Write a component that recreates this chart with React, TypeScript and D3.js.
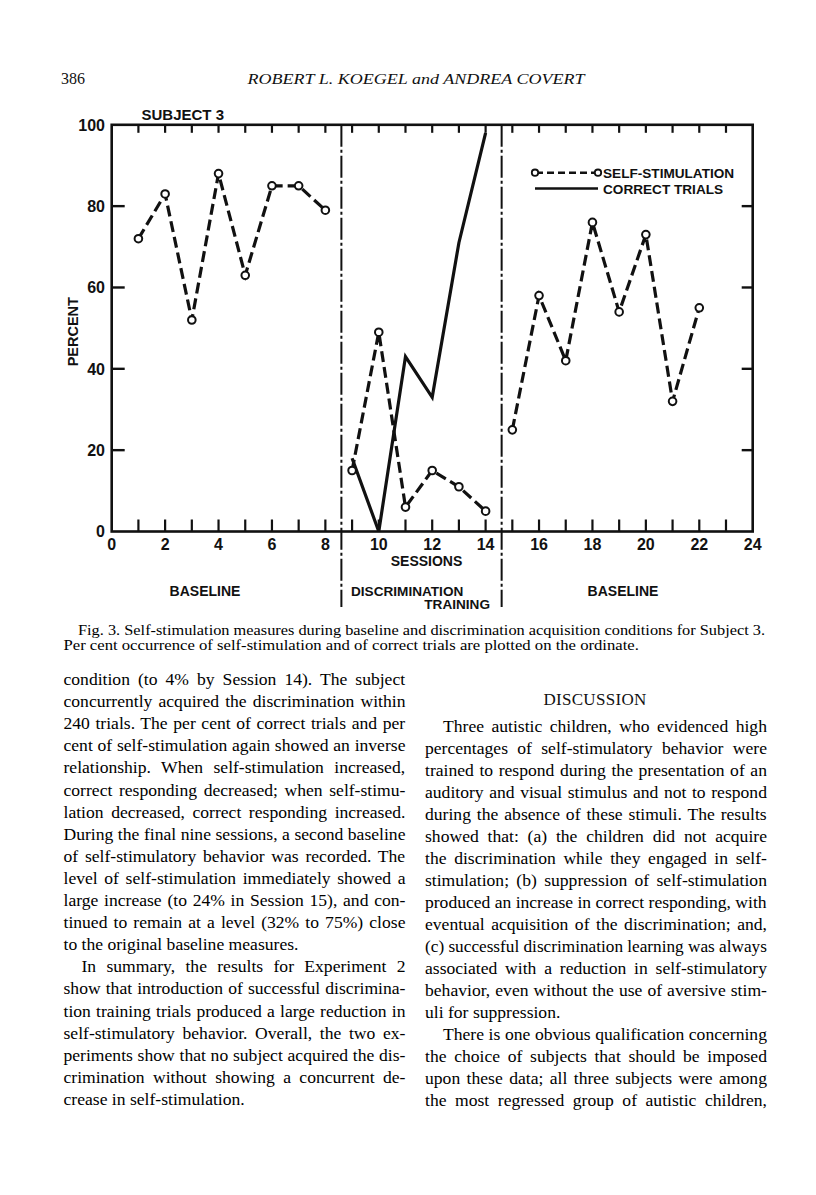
import React from "react";
import * as d3 from "d3";

// ---------- DATA ----------
const sessionsBaseline1 = [1, 2, 3, 4, 5, 6, 7, 8];
const selfStimBaseline1 = [72, 83, 52, 88, 63, 85, 85, 79];
const sessionsDiscrim = [9, 10, 11, 12, 13, 14];
const selfStimDiscrim = [15, 49, 6, 15, 11, 5];
const correctDiscrim = [18, 0, 43, 33, 71, 98];
const sessionsBaseline2 = [15, 16, 17, 18, 19, 20, 21, 22];
const selfStimBaseline2 = [25, 58, 42, 76, 54, 73, 32, 55];
const phaseBreaks = [8.6, 14.6];
const xTickLabels = [0, 2, 4, 6, 8, 10, 12, 14, 16, 18, 20, 22, 24];
const yTickLabels = [0, 20, 40, 60, 80, 100];
const minorSessions = d3.range(1, 24);

const headerLeft = "386";
const headerCenter = "ROBERT L. KOEGEL and ANDREA COVERT";
const captionLines = [
  "Fig. 3. Self-stimulation measures during baseline and discrimination acquisition conditions for Subject 3.",
  "Per cent occurrence of self-stimulation and of correct trials are plotted on the ordinate.",
];
// [text, indent, justify]
const leftColumn: [string, boolean, boolean][] = [
  ["condition (to 4% by Session 14). The subject", false, true],
  ["concurrently acquired the discrimination within", false, true],
  ["240 trials. The per cent of correct trials and per", false, true],
  ["cent of self-stimulation again showed an inverse", false, true],
  ["relationship. When self-stimulation increased,", false, true],
  ["correct responding decreased; when self-stimu-", false, true],
  ["lation decreased, correct responding increased.", false, true],
  ["During the final nine sessions, a second baseline", false, true],
  ["of self-stimulatory behavior was recorded. The", false, true],
  ["level of self-stimulation immediately showed a", false, true],
  ["large increase (to 24% in Session 15), and con-", false, true],
  ["tinued to remain at a level (32% to 75%) close", false, true],
  ["to the original baseline measures.", false, false],
  ["In summary, the results for Experiment 2", true, true],
  ["show that introduction of successful discrimina-", false, true],
  ["tion training trials produced a large reduction in", false, true],
  ["self-stimulatory behavior. Overall, the two ex-", false, true],
  ["periments show that no subject acquired the dis-", false, true],
  ["crimination without showing a concurrent de-", false, true],
  ["crease in self-stimulation.", false, false],
];
const rightColumn: [string, boolean, boolean][] = [
  ["Three autistic children, who evidenced high", true, true],
  ["percentages of self-stimulatory behavior were", false, true],
  ["trained to respond during the presentation of an", false, true],
  ["auditory and visual stimulus and not to respond", false, true],
  ["during the absence of these stimuli. The results", false, true],
  ["showed that: (a) the children did not acquire", false, true],
  ["the discrimination while they engaged in self-", false, true],
  ["stimulation; (b) suppression of self-stimulation", false, true],
  ["produced an increase in correct responding, with", false, true],
  ["eventual acquisition of the discrimination; and,", false, true],
  ["(c) successful discrimination learning was always", false, true],
  ["associated with a reduction in self-stimulatory", false, true],
  ["behavior, even without the use of aversive stim-", false, true],
  ["uli for suppression.", false, false],
  ["There is one obvious qualification concerning", true, true],
  ["the choice of subjects that should be imposed", false, true],
  ["upon these data; all three subjects were among", false, true],
  ["the most regressed group of autistic children,", false, true],
];

// ---------- helpers ----------
const SERIF = "'Liberation Serif', 'Times New Roman', serif";
const SANS = "'Liberation Sans', Arial, sans-serif";
let ctx: CanvasRenderingContext2D | null = null;
function measure(text: string, font: string): number {
  if (!ctx) ctx = document.createElement("canvas").getContext("2d");
  if (!ctx) return text.length * 7;
  ctx.font = font;
  return ctx.measureText(text).width;
}

function JustLine({ text, x, y, width, size, justify, indent, family, sx, fit }: any) {
  const font = `${size}px ${family}`;
  const words = text.split(" ");
  const x0 = x + indent;
  const natural = measure(text, font);
  const avail = width - indent;
  let scale = sx;
  if (fit || (justify && natural * sx > avail)) {
    scale = avail / natural;
  }
  const w = avail / scale;
  let wordSpacing = 0;
  if (justify && words.length > 1) {
    wordSpacing = Math.max(0, (w - natural) / (words.length - 1));
  }
  return (
    <text
      transform={`translate(${x0},${y}) scale(${scale},1)`}
      x={0}
      y={0}
      fontFamily={family}
      fontSize={size}
      style={{ wordSpacing: `${wordSpacing}px` }}
      fill="#000"
    >
      {text}
    </text>
  );
}

export default function App() {
  const W = 816;
  const H = 1195;
  const x = d3.scaleLinear().domain([0, 24]).range([111.7, 752.7]);
  const y = d3.scaleLinear().domain([0, 100]).range([531.5, 124.8]);

  const line = d3
    .line<[number, number]>()
    .x((d) => x(d[0]))
    .y((d) => y(d[1]));

  const zip = (a: number[], b: number[]) => a.map((v, i) => [v, b[i]] as [number, number]);
  const selfSegments = [
    zip(sessionsBaseline1, selfStimBaseline1),
    zip(sessionsDiscrim, selfStimDiscrim),
    zip(sessionsBaseline2, selfStimBaseline2),
  ];
  const correct = zip(sessionsDiscrim, correctDiscrim);

  const ink = "#111";
  const dash = "11 5";

  const leftX = 63.5;
  const rightX = 425;
  const colW = 342;
  const bodySize = 17;
  const bodySx = 1.035;

  return (
    <svg
      width={W}
      height={H}
      style={{ position: "absolute", left: 0, top: 0, background: "#fff" }}
      xmlns="http://www.w3.org/2000/svg"
    >
      <rect x={0} y={0} width={W} height={H} fill="#fff" />
      {/* header */}
      <text x={61} y={84} fontFamily={SERIF} fontSize={16} fill={ink}>
        {headerLeft}
      </text>
      <text
        x={416}
        y={84}
        fontFamily={SERIF}
        fontSize={15.5}
        fontStyle="italic"
        textAnchor="middle"
        fill={ink}
        textLength={337}
        lengthAdjust="spacingAndGlyphs"
      >
        {headerCenter}
      </text>

      {/* chart */}
      <g>
        <text x={141.5} y={119.7} fontFamily={SANS} fontWeight="bold" fontSize={15} fill={ink}>
          SUBJECT 3
        </text>
        {/* frame */}
        <rect
          x={x(0)}
          y={y(100)}
          width={x(24) - x(0)}
          height={y(0) - y(100)}
          fill="none"
          stroke={ink}
          strokeWidth={2.6}
        />
        {/* top & bottom ticks */}
        {minorSessions.map((s) => (
          <g key={"t" + s}>
            <line x1={x(s)} x2={x(s)} y1={y(100)} y2={y(100) + 8} stroke={ink} strokeWidth={2.2} />
            <line x1={x(s)} x2={x(s)} y1={y(0)} y2={y(0) - 12} stroke={ink} strokeWidth={2.2} />
          </g>
        ))}
        {/* left & right ticks */}
        {yTickLabels
          .filter((v) => v > 0 && v < 100)
          .map((v) => (
            <g key={"yt" + v}>
              <line x1={x(0)} x2={x(0) + 13} y1={y(v)} y2={y(v)} stroke={ink} strokeWidth={2.4} />
              <line x1={x(24)} x2={x(24) - 11} y1={y(v)} y2={y(v)} stroke={ink} strokeWidth={2.4} />
            </g>
          ))}
        {/* y labels */}
        {yTickLabels.map((v) => (
          <text
            key={"yl" + v}
            x={105}
            y={y(v) + 5.8}
            textAnchor="end"
            fontFamily={SANS}
            fontWeight="bold"
            fontSize={16}
            fill={ink}
          >
            {v}
          </text>
        ))}
        {/* x labels */}
        {xTickLabels.map((v) => (
          <text
            key={"xl" + v}
            x={x(v)}
            y={549.8}
            textAnchor="middle"
            fontFamily={SANS}
            fontWeight="bold"
            fontSize={16}
            fill={ink}
          >
            {v}
          </text>
        ))}
        <text
          transform={`translate(78,331.7) rotate(-90)`}
          textAnchor="middle"
          fontFamily={SANS}
          fontWeight="bold"
          fontSize={14.5}
          fill={ink}
        >
          PERCENT
        </text>
        <text x={426.5} y={565.5} textAnchor="middle" fontFamily={SANS} fontWeight="bold" fontSize={14} fill={ink}>
          SESSIONS
        </text>
        <text x={205} y={596} textAnchor="middle" fontFamily={SANS} fontWeight="bold" fontSize={14} fill={ink}>
          BASELINE
        </text>
        <text x={351} y={596} fontFamily={SANS} fontWeight="bold" fontSize={13.6} fill={ink}>
          DISCRIMINATION
        </text>
        <text x={490} y={609} textAnchor="end" fontFamily={SANS} fontWeight="bold" fontSize={13.6} fill={ink}>
          TRAINING
        </text>
        <text x={623} y={596} textAnchor="middle" fontFamily={SANS} fontWeight="bold" fontSize={14} fill={ink}>
          BASELINE
        </text>

        {/* phase separators */}
        {phaseBreaks.map((b) => (
          <line
            key={"pb" + b}
            x1={x(b)}
            x2={x(b)}
            y1={y(100)}
            y2={607}
            stroke={ink}
            strokeWidth={2}
            strokeDasharray="22 3 3 3"
          />
        ))}

        {/* correct trials */}
        <path d={line(correct) || ""} fill="none" stroke={ink} strokeWidth={3.2} strokeLinejoin="miter" />

        {/* self-stimulation */}
        {selfSegments.map((seg, i) => (
          <path
            key={"ss" + i}
            d={line(seg) || ""}
            fill="none"
            stroke={ink}
            strokeWidth={3.2}
            strokeDasharray={dash}
          />
        ))}
        {selfSegments.flat().map((d, i) => (
          <circle key={"c" + i} cx={x(d[0])} cy={y(d[1])} r={3.8} fill="#fff" stroke={ink} strokeWidth={2} />
        ))}

        {/* legend */}
        <line x1={536} x2={597} y1={172.7} y2={172.7} stroke={ink} strokeWidth={2.6} strokeDasharray="7 4" />
        <circle cx={535} cy={172.7} r={3.2} fill="#fff" stroke={ink} strokeWidth={1.8} />
        <circle cx={598} cy={172.7} r={3.2} fill="#fff" stroke={ink} strokeWidth={1.8} />
        <text x={603} y={178} fontFamily={SANS} fontWeight="bold" fontSize={13.6} fill={ink}>
          SELF-STIMULATION
        </text>
        <line x1={535} x2={598} y1={188.5} y2={188.5} stroke={ink} strokeWidth={2.6} />
        <text x={603} y={193.5} fontFamily={SANS} fontWeight="bold" fontSize={13.6} fill={ink}>
          CORRECT TRIALS
        </text>
      </g>

      {/* caption */}
      <JustLine text={captionLines[0]} x={63.5} y={635} width={702} size={14.5} justify={true} indent={14.5} family={SERIF} sx={1.15} fit={true} />
      <JustLine text={captionLines[1]} x={63.5} y={649.5} width={704} size={14.5} justify={false} indent={0} family={SERIF} sx={1.15} />

      {/* left column */}
      {leftColumn.map(([t, ind, j], i) => (
        <JustLine key={"l" + i} text={t} x={leftX} y={685 + i * 22.1} width={colW} size={bodySize} justify={j} indent={ind ? 18 : 0} family={SERIF} sx={bodySx} />
      ))}

      {/* right column */}
      <text x={595} y={705} textAnchor="middle" fontFamily={SERIF} fontSize={17} fill={ink} letterSpacing={0.3}>
        DISCUSSION
      </text>
      {rightColumn.map(([t, ind, j], i) => (
        <JustLine key={"r" + i} text={t} x={rightX} y={731.8 + i * 22.0} width={colW} size={bodySize} justify={j} indent={ind ? 18 : 0} family={SERIF} sx={bodySx} />
      ))}
    </svg>
  );
}
